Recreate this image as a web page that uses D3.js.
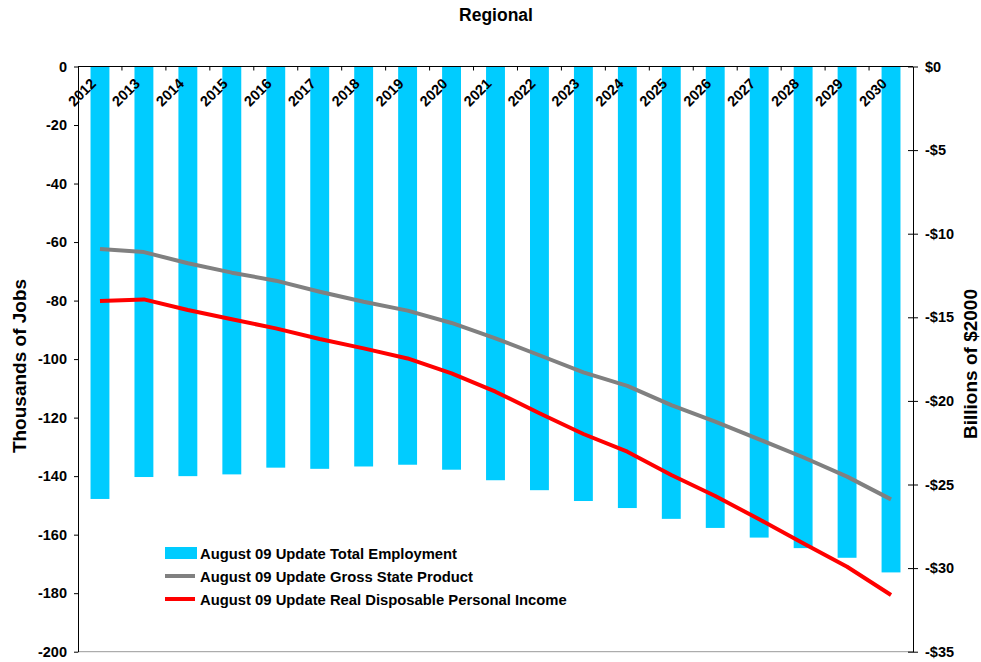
<!DOCTYPE html>
<html lang="en">
<head>
  <meta charset="UTF-8">
  <title>Regional</title>
  <script src="https://d3js.org/d3.v7.min.js"></script>
  <style>
    body { margin: 0; background: #fff; }
    text { font-family: Arial, "Liberation Sans", sans-serif; font-weight: bold; }
  </style>
</head>
<body>
<script>
  // chart data
  const years = ["2012","2013","2014","2015","2016","2017","2018","2019","2020","2021",
                 "2022","2023","2024","2025","2026","2027","2028","2029","2030"];
  const employment = [-147.8,-140.3,-140,-139.4,-137.1,-137.5,-136.7,-136.1,-137.8,-141.4,
                      -144.8,-148.5,-150.9,-154.6,-157.7,-161,-164.6,-167.9,-172.9];
  const gsp = [-10.92,-11.1,-11.77,-12.33,-12.81,-13.47,-14.07,-14.6,-15.34,-16.26,
               -17.27,-18.29,-19.1,-20.25,-21.24,-22.3,-23.37,-24.53,-25.89];
  const rdpi = [-14.03,-13.93,-14.56,-15.12,-15.66,-16.3,-16.86,-17.46,-18.35,-19.45,
                -20.74,-21.98,-23.04,-24.43,-25.69,-27.08,-28.52,-29.92,-31.61];
  const leftTicks = [0,-20,-40,-60,-80,-100,-120,-140,-160,-180,-200];
  const rightTicks = [0,-5,-10,-15,-20,-25,-30,-35];
  const seriesNames = ["August 09 Update Total Employment",
                       "August 09 Update Gross State Product",
                       "August 09 Update Real Disposable Personal Income"];

  const width = 981, height = 662;
  const plotLeft = 78, plotRight = 913, plotTop = 66.5, plotBottom = 651.7;

  const svg = d3.select("body").append("svg")
    .attr("width", width)
    .attr("height", height);

  const x = d3.scaleBand().domain(years).range([plotLeft, plotRight])
    .paddingInner(0.57).paddingOuter(0.285);
  const yL = d3.scaleLinear().domain([0, -200]).range([plotTop, plotBottom]);
  const yR = d3.scaleLinear().domain([0, -35]).range([plotTop, plotBottom]);
  const cx = d => x(d) + x.bandwidth() / 2;

  // bottom border of the plot
  svg.append("line")
    .attr("x1", plotLeft).attr("x2", plotRight)
    .attr("y1", plotBottom).attr("y2", plotBottom)
    .attr("stroke", "#999").attr("stroke-width", 1);

  // bars
  svg.append("g").selectAll("rect")
    .data(years)
    .join("rect")
    .attr("x", d => x(d))
    .attr("width", x.bandwidth())
    .attr("y", yL(0))
    .attr("height", (d, i) => yL(employment[i]) - yL(0))
    .attr("fill", "#00ccff");

  // lines
  const line = d3.line().x((d, i) => cx(years[i])).y(d => yR(d));
  svg.append("path").datum(gsp)
    .attr("d", line).attr("fill", "none")
    .attr("stroke", "#808080").attr("stroke-width", 4).attr("stroke-linejoin", "round");
  svg.append("path").datum(rdpi)
    .attr("d", line).attr("fill", "none")
    .attr("stroke", "#ff0000").attr("stroke-width", 4).attr("stroke-linejoin", "round");

  // left axis
  svg.append("g")
    .attr("transform", `translate(${plotLeft},0)`)
    .call(d3.axisLeft(yL).tickValues(leftTicks).tickSize(4).tickPadding(7).tickSizeOuter(0)
      .tickFormat(v => String(v)))
    .call(g => g.select(".domain").attr("stroke", "#000"))
    .call(g => g.selectAll(".tick text").attr("font-size", 14.5).attr("fill", "#000"));

  // right axis
  svg.append("g")
    .attr("transform", `translate(${plotRight},0)`)
    .call(d3.axisRight(yR).tickValues(rightTicks).tickSize(5).tickPadding(7).tickSizeOuter(0)
      .tickFormat(v => v === 0 ? "$0" : "-$" + Math.abs(v)))
    .call(g => g.selectAll(".tick line").attr("x1", -5))
    .call(g => g.selectAll(".tick text").attr("font-size", 14.5).attr("fill", "#000"));

  // category axis along the zero line
  const gx = svg.append("g");
  gx.append("line")
    .attr("x1", plotLeft).attr("x2", plotRight)
    .attr("y1", yL(0)).attr("y2", yL(0))
    .attr("stroke", "#000");
  const half = (x.step() - x.bandwidth()) / 2;
  gx.selectAll("line.tk")
    .data(years.slice(1))
    .join("line")
    .attr("class", "tk")
    .attr("x1", d => x(d) - half).attr("x2", d => x(d) - half)
    .attr("y1", yL(0)).attr("y2", yL(0) + 4)
    .attr("stroke", "#000");
  gx.selectAll("text")
    .data(years)
    .join("text")
    .attr("transform", d => `translate(${cx(d) - 3},${yL(0) + 18}) rotate(-45)`)
    .attr("text-anchor", "end")
    .attr("font-size", 14.5)
    .text(d => d);

  // title
  svg.append("text")
    .attr("x", 496).attr("y", 21)
    .attr("text-anchor", "middle")
    .attr("font-size", 17.5)
    .text("Regional");

  // axis titles
  svg.append("text")
    .attr("transform", "translate(26,366) rotate(-90)")
    .attr("text-anchor", "middle")
    .attr("font-size", 19)
    .text("Thousands of Jobs");
  svg.append("text")
    .attr("transform", "translate(977,364) rotate(-90)")
    .attr("text-anchor", "middle")
    .attr("font-size", 19)
    .text("Billions of $2000");

  // legend
  const lg = svg.append("g").attr("transform", "translate(165,553)");
  seriesNames.forEach((name, i) => {
    const row = lg.append("g").attr("transform", `translate(0,${i * 23})`);
    if (i === 0) {
      row.append("rect").attr("x", 0).attr("y", -6).attr("width", 32).attr("height", 12)
        .attr("fill", "#00ccff");
    } else {
      row.append("line").attr("x1", 0).attr("x2", 30).attr("y1", 0).attr("y2", 0)
        .attr("stroke", i === 1 ? "#808080" : "#ff0000").attr("stroke-width", 4);
    }
    row.append("text").attr("x", 35).attr("y", 5.5)
      .attr("font-size", 14.8).text(name);
  });
</script>
</body>
</html>
